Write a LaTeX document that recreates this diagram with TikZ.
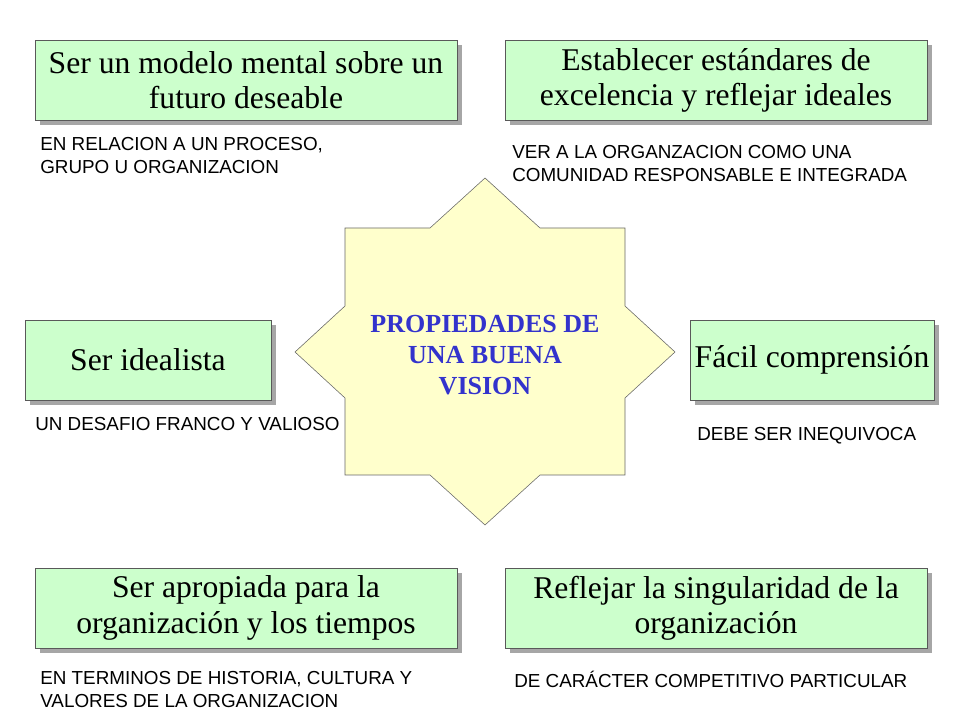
\documentclass[tikz,border=0pt]{standalone}
\usepackage{fontspec}
\setmainfont{Liberation Serif}
\setsansfont{Liberation Sans}
\usetikzlibrary{shadows}
\definecolor{boxgreen}{HTML}{CCFFCC}
\definecolor{staryellow}{HTML}{FFFFCC}
\definecolor{titleblue}{HTML}{3333CC}
\tikzset{
  propbox/.style={rectangle, draw=gray!70!black, fill=boxgreen, align=center,
    inner sep=2pt, font=\fontsize{22.5}{25}\selectfont,
    drop shadow={shadow xshift=0.13cm, shadow yshift=-0.13cm, fill=gray!70, opacity=1}},
  note/.style={anchor=north west, align=left, inner sep=0pt,
    font=\sffamily\fontsize{13.4}{16.5}\selectfont}
}
\begin{document}
\begin{tikzpicture}[x=0.025cm, y=-0.025cm]
\useasboundingbox (0,0) rectangle (960,720);
% estrella central
\draw[gray!80!black, fill=staryellow]
  (485,178) -- (540,228) -- (625,228) -- (625,306) -- (675,352) -- (625,398)
  -- (625,475) -- (540,475) -- (485,525) -- (430,475) -- (345,475) -- (345,398)
  -- (295,352) -- (345,306) -- (345,228) -- (430,228) -- cycle;
\node[align=center, text=titleblue, font=\bfseries\fontsize{18.5}{22}\selectfont]
  (centro) at (485,355) {PROPIEDADES DE\\UNA BUENA\\VISION};
% cajas
\node[propbox, minimum width=10.55cm, minimum height=2cm] (modelo) at (246,80)
  {Ser un modelo mental sobre un\\futuro deseable};
\node[propbox, minimum width=10.55cm, minimum height=2cm] (estandar) at (716,80)
  {Establecer estándares de\\excelencia y reflejar ideales};
\node[propbox, minimum width=6.15cm, minimum height=2cm] (idealista) at (148,360)
  {Ser idealista};
\node[propbox, minimum width=6.1cm, minimum height=2cm] (facil) at (812,360)
  {Fácil comprensión};
\node[propbox, minimum width=10.55cm, minimum height=2cm] (apropiada) at (246,608)
  {Ser apropiada para la\\organización y los tiempos};
\node[propbox, minimum width=10.55cm, minimum height=2cm] (singular) at (716,608)
  {Reflejar la singularidad de la\\organización};
% notas
\node[note] (n1) at (40,137) {EN RELACION A UN PROCESO,\\GRUPO U ORGANIZACION};
\node[note] (n2) at (512,145) {VER A LA ORGANZACION COMO UNA\\COMUNIDAD RESPONSABLE E INTEGRADA};
\node[note] (n3) at (35,417) {UN DESAFIO FRANCO Y VALIOSO};
\node[note] (n4) at (697,427) {DEBE SER INEQUIVOCA};
\node[note] (n5) at (40,671) {EN TERMINOS DE HISTORIA, CULTURA Y\\VALORES DE LA ORGANIZACION};
\node[note] (n6) at (514,671) {DE CARÁCTER COMPETITIVO PARTICULAR};
\end{tikzpicture}
\end{document}
